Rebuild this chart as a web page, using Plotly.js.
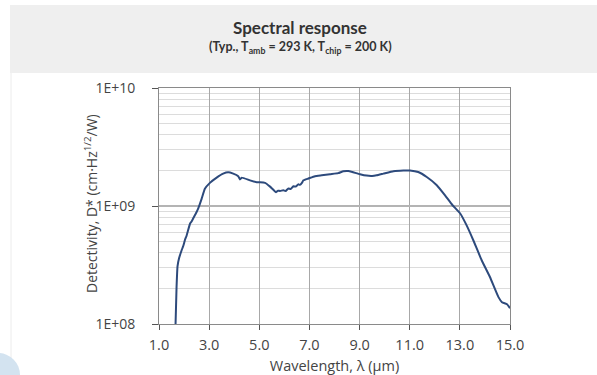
<!DOCTYPE html>
<html>
<head>
<meta charset="utf-8">
<script src="https://cdn.plot.ly/plotly-3.0.1.min.js"></script>
<style>html,body{margin:0;padding:0;background:#fff;}#chart{width:597px;height:375px;}</style>
</head>
<body>
<div id="chart"></div>
<script>
// Wavelength (µm)
const wavelength = [1.66, 1.70, 1.74, 1.80, 1.90, 1.97, 2.04, 2.10, 2.24, 2.30, 2.37, 2.50, 2.57, 2.70, 2.83, 3.03, 3.30, 3.56, 3.76, 3.96, 4.16, 4.23, 4.30, 4.63, 4.90, 5.03, 5.23, 5.43, 5.67, 5.75, 5.83, 5.96, 6.05, 6.16, 6.25, 6.36, 6.45, 6.56, 6.62, 6.70, 6.76, 6.96, 7.22, 7.49, 7.82, 8.15, 8.35, 8.55, 8.75, 9.02, 9.28, 9.50, 9.68, 9.95, 10.35, 10.75, 11.01, 11.34, 11.68, 12.08, 12.41, 12.70, 13.02, 13.27, 13.54, 13.87, 14.20, 14.54, 14.68, 14.88, 15.0];
// Detectivity D* (cm·Hz^1/2/W)
const detectivity = [1.0e8, 2.05e8, 3.1e8, 3.6e8, 4.2e8, 4.6e8, 5.2e8, 5.6e8, 7.1e8, 7.4e8, 7.9e8, 8.9e8, 9.6e8, 1.15e9, 1.40e9, 1.57e9, 1.74e9, 1.88e9, 1.93e9, 1.88e9, 1.79e9, 1.68e9, 1.74e9, 1.65e9, 1.59e9, 1.59e9, 1.57e9, 1.46e9, 1.31e9, 1.35e9, 1.34e9, 1.36e9, 1.34e9, 1.41e9, 1.39e9, 1.47e9, 1.46e9, 1.53e9, 1.51e9, 1.57e9, 1.65e9, 1.71e9, 1.79e9, 1.82e9, 1.86e9, 1.90e9, 1.97e9, 1.98e9, 1.93e9, 1.86e9, 1.81e9, 1.80e9, 1.82e9, 1.88e9, 1.97e9, 2.0e9, 2.0e9, 1.94e9, 1.76e9, 1.50e9, 1.23e9, 1.02e9, 8.6e8, 6.85e8, 5.1e8, 3.47e8, 2.5e8, 1.69e8, 1.53e8, 1.47e8, 1.36e8];

const xTicks = [1, 3, 5, 7, 9, 11, 13, 15];
const xTickText = ['1.0', '3.0', '5.0', '7.0', '9.0', '11.0', '13.0', '15.0'];
const yTicks = [1e8, 1e9, 1e10];
const yTickText = ['1E+08', '1E+09', '1E+10'];

const minorY = [];
[1e8, 1e9].forEach(d => { for (let k = 2; k <= 9; k++) minorY.push(k * d); });

const trace = {
  x: wavelength, y: detectivity, type: 'scatter', mode: 'lines',
  line: {color: '#2d4a7c', width: 2, shape: 'spline', smoothing: 0.4},
  hoverinfo: 'skip'
};

const font = 'Open Sans, Noto Sans, sans-serif';
const L = 159, B = 51, W = 351, H = 236;
const px = v => (v - L) / W;
const py = v => (375 - B - v) / H;

const layout = {
  width: 597, height: 375,
  margin: {l: L, r: 597 - L - W, t: 375 - B - H, b: B},
  paper_bgcolor: '#ffffff', plot_bgcolor: '#ffffff',
  showlegend: false,
  font: {family: font, color: '#444', size: 14},
  xaxis: {
    range: [1, 15], tickvals: xTicks, ticktext: xTickText,
    showgrid: true, gridcolor: '#a8a8a8', gridwidth: 1,
    showline: true, linecolor: '#8a8a8a', linewidth: 1, mirror: true,
    ticks: 'outside', ticklen: 5, tickcolor: '#555',
    ticklabelstandoff: 3,
    tickfont: {family: font, size: 14.5, color: '#444'},
    zeroline: false,
    title: {text: 'Wavelength, λ (µm)', font: {family: font, size: 14.5, color: '#444'}, standoff: 8}
  },
  yaxis: {
    type: 'log', range: [8, 10], tickvals: yTicks, ticktext: yTickText,
    showgrid: true, gridcolor: '#b4b4b4', gridwidth: 2,
    showline: true, linecolor: '#8a8a8a', linewidth: 1, mirror: true,
    ticks: 'outside', ticklen: 6, tickcolor: '#555',
    ticklabelstandoff: 14,
    tickfont: {family: font, size: 14, color: '#444'},
    minor: {tickmode: 'array', tickvals: minorY, showgrid: true, gridcolor: '#dcdcdc', gridwidth: 1, ticks: ''},
    zeroline: false,
    title: {text: ''}
  },
  shapes: [
    {type: 'rect', xref: 'paper', yref: 'paper', layer: 'below',
     x0: px(10), x1: px(600), y0: py(73), y1: py(5),
     fillcolor: '#efefef', line: {width: 0}},
    {type: 'line', xref: 'paper', yref: 'paper', layer: 'below',
     x0: px(11), x1: px(11), y0: py(73), y1: py(380),
     line: {color: '#ececec', width: 1}},
    {type: 'circle', xref: 'paper', yref: 'paper', layer: 'below',
     x0: px(-24), x1: px(20), y0: py(397), y1: py(353),
     fillcolor: '#d3e3f0', line: {width: 0}}
  ],
  annotations: [
    {xref: 'paper', yref: 'paper', x: px(300), y: py(27), xanchor: 'center', yanchor: 'middle',
     showarrow: false, text: '<b>Spectral response</b>',
     font: {family: 'Lato, DejaVu Sans, sans-serif', size: 17, color: '#333'}},
    {xref: 'paper', yref: 'paper', x: px(300), y: py(47), xanchor: 'center', yanchor: 'middle',
     showarrow: false, text: '<b>(Typ., T<sub>amb</sub> = 293 K, T<sub>chip</sub> = 200 K)</b>',
     font: {family: 'Lato, DejaVu Sans, sans-serif', size: 12.5, color: '#333'}},
    {xref: 'paper', yref: 'paper', x: px(91), y: py(204), xanchor: 'center', yanchor: 'middle',
     showarrow: false, textangle: -90, text: 'Detectivity, D* (cm·Hz<sup>1/2</sup>/W)',
     font: {family: font, size: 14, color: '#444'}}
  ]
};

Plotly.newPlot('chart', [trace], layout, {staticPlot: true, displayModeBar: false});
</script>
</body>
</html>
